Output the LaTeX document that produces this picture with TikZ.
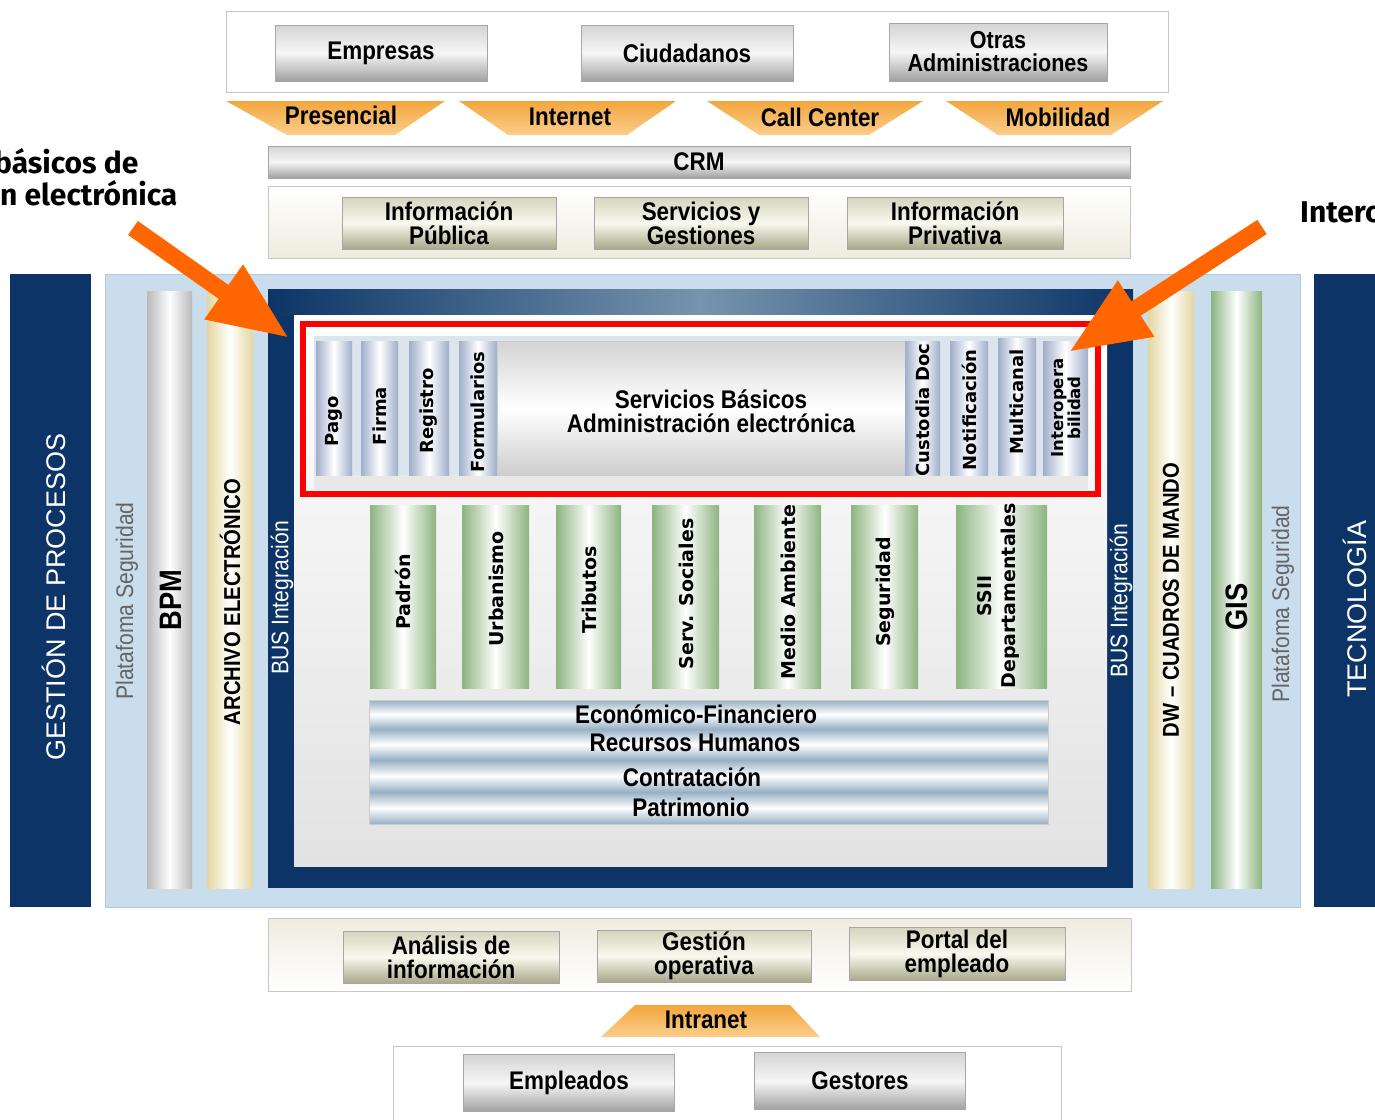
\documentclass[tikz,border=0pt]{standalone}
\usepackage{fontspec}
\setmainfont{Liberation Sans}
\newfontfamily\labf{Liberation Sans}[FakeStretch=0.88]
\newfontfamily\vertf{DejaVu Sans}
\newfontfamily\callf{Fira Sans}
\usetikzlibrary{arrows.meta}
\definecolor{navy}{RGB}{12,52,102}
\definecolor{navylight}{RGB}{118,148,172}
\definecolor{lpanel}{RGB}{202,221,236}
\definecolor{lpaneldraw}{RGB}{180,200,220}
\definecolor{gtop}{RGB}{212,212,212}
\definecolor{gmid}{RGB}{246,246,246}
\definecolor{gbot}{RGB}{160,160,160}
\definecolor{otop}{RGB}{212,212,190}
\definecolor{omid}{RGB}{248,248,238}
\definecolor{obot}{RGB}{168,168,138}
\definecolor{ortop}{RGB}{243,166,62}
\definecolor{orbot}{RGB}{250,206,140}
\definecolor{beige}{RGB}{228,214,160}
\definecolor{cream}{RGB}{238,236,222}
\definecolor{grn}{RGB}{140,180,128}
\definecolor{bgr}{RGB}{160,174,202}
\definecolor{stripe}{RGB}{150,176,196}
\definecolor{arrowc}{RGB}{255,102,0}
\definecolor{txtgray}{RGB}{100,100,100}
\definecolor{sbbg}{RGB}{220,228,238}
\definecolor{sbstrip}{RGB}{232,232,232}
\definecolor{inbot}{RGB}{226,226,226}
\definecolor{bigtop}{RGB}{212,212,212}
\definecolor{bigbot}{RGB}{205,205,205}
\tikzset{
  lab/.style={font=\labf\bfseries\fontsize{25.5}{24}\selectfont, align=center, inner sep=0pt, text=black},
  gbtn/.style={lab, draw=gray!70, top color=gtop, bottom color=gbot, middle color=gmid},
  obtn/.style={lab, draw=gray!70, top color=otop, bottom color=obot, middle color=omid},
  panel/.style={draw=gray!45, line width=1pt},
  vlab/.style={font=\vertf\bfseries\fontsize{18}{19}\selectfont, rotate=90, inner sep=0pt, align=center},
  nlab/.style={font=\labf\bfseries\fontsize{23}{24}\selectfont, rotate=90, inner sep=0pt, align=center},
  biglab/.style={font=\fontsize{27}{28}\selectfont, rotate=90, inner sep=0pt, text=white},
  platf/.style={font=\labf\fontsize{24}{25}\selectfont, rotate=90, inner sep=0pt, text=txtgray},
  trap/.style={top color=ortop, bottom color=orbot},
  bigarrow/.style={draw=arrowc, line width=17pt, -{Triangle[length=80pt,width=62pt]}},
  callout/.style={font=\callf\bfseries\fontsize{30}{31}\selectfont, inner sep=0pt, anchor=base west},
}
\newcommand\mycyl[5]{\path[left color=#5, right color=#5, middle color=white] (#1,#2) rectangle (#3,#4);}
\begin{document}
\begin{tikzpicture}[x=1pt,y=-1pt]
\useasboundingbox (0,0) rectangle (1375,1119);
\clip (0,0) rectangle (1375,1119);
\fill[white] (0,0) rectangle (1375,1119);

% ---------- top ----------
\draw[panel, fill=white] (226,11) rectangle (1168,92);
\node[gbtn, minimum width=212pt, minimum height=56pt] (emp) at (381,53) {Empresas};
\node[gbtn, minimum width=212pt, minimum height=56pt] (ciu) at (687,53) {Ciudadanos};
\node[gbtn, minimum width=218pt, minimum height=58pt, font=\labf\bfseries\fontsize{24.5}{23}\selectfont] (otr) at (998,52) {Otras\\Administraciones};

\path[trap] (226,101) -- (445,101) -- (395,135) -- (287,135) -- cycle;
\path[trap] (459,101) -- (676,101) -- (627,135) -- (508,135) -- cycle;
\path[trap] (707,101) -- (923,101) -- (869,135) -- (759,135) -- cycle;
\path[trap] (946,101) -- (1163,101) -- (1111,135) -- (998,135) -- cycle;
\node[lab] (pres) at (341,115) {Presencial};
\node[lab] (inte) at (570,117) {Internet};
\node[lab] (call) at (820,117) {Call Center};
\node[lab] (mobi) at (1058,117) {Mobilidad};

\node[gbtn, minimum width=862pt, minimum height=32pt] (crm) at (699,162) {CRM};

\draw[panel, top color=white, bottom color=cream] (268,186) rectangle (1130,258);
\node[obtn, minimum width=214pt, minimum height=52pt] (ipub) at (449,223) {Información\\Pública};
\node[obtn, minimum width=214pt, minimum height=52pt] (serv) at (701,223) {Servicios y\\Gestiones};
\node[obtn, minimum width=216pt, minimum height=52pt] (ipri) at (955,223) {Información\\Privativa};

% ---------- middle ----------
\fill[navy] (10,274) rectangle (91,907);
\node[biglab] (gp) at (54,597) {GESTIÓN DE PROCESOS};
\draw[fill=lpanel, draw=lpaneldraw] (105,274) rectangle (1300,907);
\fill[navy] (1314,274) rectangle (1375,907);
\node[biglab] (tec) at (1355,609) {TECNOLOGÍA};

\node[platf] (pl1) at (127,601) {Platafoma Seguridad};
\node[platf] (pl2) at (1283,604) {Platafoma Seguridad};

\mycyl{147}{291}{192}{888}{gray!55}
\node[nlab, font=\labf\bfseries\fontsize{31}{32}\selectfont] (bpm) at (171,600) {BPM};
\mycyl{207}{291}{253}{888}{beige}
\node[nlab] (arch) at (230,602) {ARCHIVO ELECTRÓNICO};
\mycyl{1148}{291}{1194}{888}{beige}
\node[nlab] (dw) at (1171,600) {DW – CUADROS DE MANDO};
\mycyl{1211}{291}{1262}{888}{grn}
\node[nlab, font=\labf\bfseries\fontsize{31}{32}\selectfont] (gis) at (1237,607) {GIS};

% frame
\fill[navy] (268,289) rectangle (1133,888);
\path[left color=navy, right color=navy, middle color=navylight] (268,289) rectangle (1133,315);
\node[nlab, font=\labf\fontsize{24}{25}\selectfont, text=white] (bus1) at (282,598) {BUS Integración};
\node[nlab, font=\labf\fontsize{24}{25}\selectfont, text=white] (bus2) at (1121,601) {BUS Integración};
\path[top color=white, bottom color=inbot] (294,315) rectangle (1107,866);

% servicios basicos
\fill[sbbg] (314,336) rectangle (1088,490);
\fill[sbstrip] (314,475) rectangle (1088,490);
\mycyl{316}{341}{352}{475}{bgr}
\mycyl{361}{341}{398}{475}{bgr}
\mycyl{409}{341}{449}{475}{bgr}
\mycyl{459}{341}{497}{475}{bgr}
\path[top color=bigtop, bottom color=bigbot, middle color=white, draw=gray!40] (497,341) rectangle (905,475);
\mycyl{905}{341}{940}{475}{bgr}
\mycyl{950}{341}{988}{475}{bgr}
\mycyl{998}{338}{1036}{475}{bgr}
\mycyl{1043}{341}{1088}{475}{bgr}
\node[vlab] (pago) at (334,421) {Pago};
\node[vlab] (firma) at (380,416) {Firma};
\node[vlab] (regi) at (429,411) {Registro};
\node[vlab] (form) at (478,412) {Formularios};
\node[lab] (sbae) at (711,411) {Servicios Básicos\\Administración electrónica};
\node[vlab] (cust) at (923,410) {Custodia Doc};
\node[vlab] (noti) at (969,410) {Notificación};
\node[vlab] (mult) at (1017,402) {Multicanal};
\node[vlab, font=\vertf\bfseries\fontsize{16.5}{15}\selectfont] (inter) at (1066,408) {Interopera\\bilidad};
\draw[red, line width=6pt] (303,324) rectangle (1098,494);

% departamentos
\mycyl{370}{505}{436}{688}{grn}
\mycyl{462}{505}{529}{688}{grn}
\mycyl{556}{505}{621}{688}{grn}
\mycyl{652}{505}{719}{688}{grn}
\mycyl{754}{505}{821}{688}{grn}
\mycyl{851}{505}{918}{688}{grn}
\mycyl{956}{505}{1047}{688}{grn}
\node[vlab, font=\vertf\bfseries\fontsize{19}{21}\selectfont] (padr) at (403,592) {Padrón};
\node[vlab, font=\vertf\bfseries\fontsize{19}{21}\selectfont] (urba) at (496,589) {Urbanismo};
\node[vlab, font=\vertf\bfseries\fontsize{19}{21}\selectfont] (trib) at (589,590) {Tributos};
\node[vlab, font=\vertf\bfseries\fontsize{19}{21}\selectfont] (ssoc) at (686,594) {Serv. Sociales};
\node[vlab, font=\vertf\bfseries\fontsize{19}{21}\selectfont] (medi) at (788,592) {Medio Ambiente};
\node[vlab, font=\vertf\bfseries\fontsize{19}{21}\selectfont] (segu) at (885,592) {Seguridad};
\node[vlab, font=\vertf\bfseries\fontsize{19}{24}\selectfont] (ssii) at (998,596) {SSII\\Departamentales};

% stripes
\foreach \ya/\yb in {700/729, 729/760, 760/792, 792/824}{
  \path[top color=stripe, bottom color=stripe, middle color=white] (369,\ya) rectangle (1048,\yb);
}
\draw[gray!40] (369,700) rectangle (1048,824);
\node[lab] (econ) at (696,714) {Económico-Financiero};
\node[lab] (rrhh) at (695,743) {Recursos Humanos};
\node[lab] (cont) at (692,777) {Contratación};
\node[lab] (patr) at (691,807) {Patrimonio};

% ---------- bottom ----------
\draw[panel, top color=cream, bottom color=white] (268,918) rectangle (1131,991);
\node[obtn, minimum width=216pt, minimum height=52pt] (anal) at (451,957) {Análisis de\\información};
\node[obtn, minimum width=214pt, minimum height=52pt] (gope) at (704,956) {Gestión\\operativa};
\node[obtn, minimum width=216pt, minimum height=53pt] (port) at (957,954) {Portal del\\empleado};
\path[trap] (635,1005) -- (790,1005) -- (820,1037) -- (601,1037) -- cycle;
\node[lab] (intra) at (706,1020) {Intranet};
\draw[panel, fill=white] (393,1046) rectangle (1061,1130);
\node[gbtn, minimum width=211pt, minimum height=57pt] (empl) at (569,1083) {Empleados};
\node[gbtn, minimum width=211pt, minimum height=57pt] (gest) at (860,1081) {Gestores};

% ---------- callouts ----------
\node[callout] (c1) at (-6,173) {básicos de};
\node[callout] (c2) at (0,205) {n electrónica};
\node[callout] (c3) at (1300,222) {Intero};
\coordinate (la1) at (133,228);
\coordinate (la2) at (289,338);
\coordinate (ra1) at (1262,227);
\coordinate (ra2) at (1069,352);
\draw[bigarrow] (la1) -- (la2);
\draw[bigarrow] (ra1) -- (ra2);
\end{tikzpicture}
\end{document}
